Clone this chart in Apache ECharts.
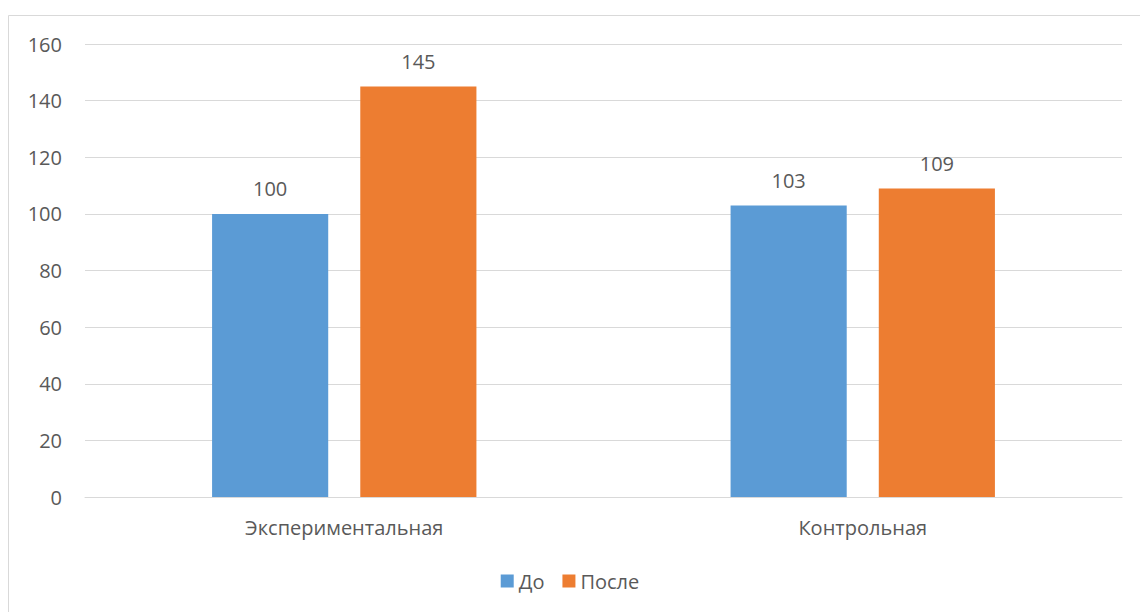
<!DOCTYPE html>
<html lang="ru">
<head>
	<meta charset="UTF-8">
	<title>До / После</title>
	<script type="text/javascript" src="https://cdn.jsdelivr.net/npm/echarts@6/dist/echarts.min.js"></script>
	<style>
		html, body { margin: 0; padding: 0; background: #fff; }
		#chart_show { width: 1140px; height: 612px; }
	</style>
</head>
<body>
	<div id="chart_show"></div>
	<script>
		var groups = ['Экспериментальная', 'Контрольная'];
		var seriesNames = ['До', 'После'];
		var beforeVals = [100, 103];
		var afterVals = [145, 109];
		var colors = ['#5b9bd5', '#ed7d31'];

		var oChart = echarts.init(document.getElementById('chart_show'), null, {renderer: 'svg'});
		var txt = {color: '#595959', fontFamily: '"Open Sans", sans-serif', fontSize: 20, fontWeight: 'normal'};

		var chartopt = {
			animation: false,
			color: colors,
			graphic: [{
				type: 'rect',
				shape: {x: 8.5, y: 15.5, width: 1200, height: 700},
				style: {fill: 'none', stroke: '#d9d9d9', lineWidth: 1}
			}],
			grid: {left: 85, right: 18, top: 44, bottom: 115, containLabel: false},
			legend: {
				data: seriesNames,
				top: 566,
				left: 'center',
				itemWidth: 13,
				itemHeight: 13,
				itemGap: 18,
				icon: 'rect',
				textStyle: txt
			},
			xAxis: [{
				type: 'category',
				data: groups,
				axisLine: {lineStyle: {color: '#d9d9d9'}},
				axisTick: {show: false},
				axisLabel: Object.assign({margin: 20}, txt)
			}],
			yAxis: [{
				type: 'value',
				min: 0,
				max: 160,
				interval: 20,
				axisLine: {show: false},
				axisTick: {show: false},
				splitLine: {lineStyle: {color: '#d9d9d9', width: 1}},
				axisLabel: Object.assign({margin: 23}, txt)
			}],
			series: [
				{
					name: seriesNames[0],
					type: 'bar',
					data: beforeVals,
					barWidth: '22.4%',
					barGap: '27.6%',
					label: Object.assign({show: true, position: 'top', distance: 15}, txt)
				},
				{
					name: seriesNames[1],
					type: 'bar',
					data: afterVals,
					barWidth: '22.4%',
					barGap: '27.6%',
					label: Object.assign({show: true, position: 'top', distance: 15}, txt)
				}
			]
		};
		oChart.setOption(chartopt);
	</script>
</body>
</html>
